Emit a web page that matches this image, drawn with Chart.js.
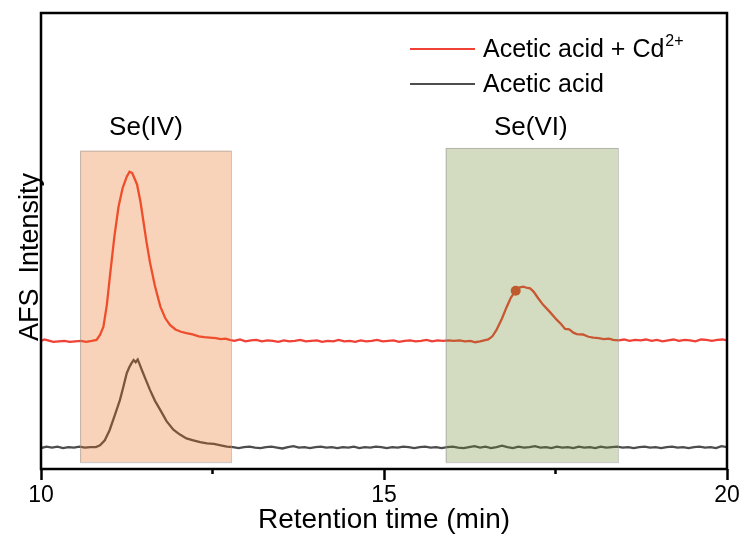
<!DOCTYPE html>
<html>
<head>
<meta charset="utf-8">
<script src="https://cdn.jsdelivr.net/npm/chart.js@4.4.1/dist/chart.umd.min.js"></script>
<style>
  html, body { margin: 0; padding: 0; background: #fff; }
</style>
</head>
<body>
<canvas id="chart" width="743" height="537"></canvas>
<script>
// retention time (min) and AFS signal
const timeCd = [10.00, 10.05, 10.10, 10.18, 10.26, 10.34, 10.42, 10.50, 10.58, 10.66, 10.74, 10.81, 10.86, 10.91, 10.96,
  11.01, 11.07, 11.13, 11.19, 11.25, 11.29, 11.33, 11.40, 11.45, 11.49, 11.54, 11.59, 11.66, 11.74, 11.81, 11.88, 11.96,
  12.04, 12.12, 12.21, 12.30, 12.38, 12.46, 12.55, 12.62, 12.69, 12.75, 12.82, 12.90, 12.98, 13.06, 13.14, 13.22, 13.30,
  13.38, 13.46, 13.54, 13.62, 13.70, 13.78, 13.86, 13.94, 14.02, 14.10, 14.18, 14.26, 14.34, 14.42, 14.50, 14.58, 14.66,
  14.74, 14.82, 14.90, 14.98, 15.06, 15.14, 15.22, 15.30, 15.38, 15.46, 15.54, 15.62, 15.70, 15.78, 15.86, 15.94, 16.02,
  16.10, 16.18, 16.26, 16.33, 16.40, 16.46, 16.52, 16.58, 16.64, 16.72, 16.79, 16.85, 16.92, 16.97, 17.03, 17.09, 17.13,
  17.18, 17.25, 17.32, 17.42, 17.52, 17.58, 17.64, 17.70, 17.76, 17.81, 17.90, 17.98, 18.05, 18.13, 18.20, 18.28, 18.34,
  18.42, 18.50, 18.58, 18.66, 18.74, 18.82, 18.90, 18.98, 19.06, 19.14, 19.22, 19.30, 19.38, 19.46, 19.54, 19.62, 19.70,
  19.78, 19.86, 19.94, 20.00];
const afsCd = [28.1, 28.4, 28.2, 27.9, 28.0, 28.1, 27.9, 28.0, 28.1, 27.9, 28.1, 28.3, 29.4, 31.2, 36.0,
  43.0, 51.0, 57.5, 61.6, 64.1, 65.2, 64.9, 62.4, 58.6, 54.6, 49.6, 45.2, 40.2, 35.6, 33.1, 31.6, 30.6,
  30.1, 29.8, 29.5, 29.1, 28.9, 28.8, 28.7, 28.5, 28.6, 28.3, 28.1, 28.4, 28.0, 28.2, 28.3, 28.0, 28.2,
  28.1, 27.9, 28.2, 28.0, 28.1, 28.3, 28.0, 28.1, 28.2, 27.9, 28.1, 28.0, 28.3, 28.0, 28.1, 27.9, 28.2,
  28.0, 28.1, 28.3, 28.0, 28.1, 28.2, 27.9, 28.1, 28.2, 28.0, 28.1, 28.3, 28.0, 28.2, 28.1, 28.2, 28.1,
  28.2, 28.0, 28.1, 27.8, 28.0, 28.2, 28.4, 29.1, 30.5, 33.0, 35.6, 37.6, 39.1, 39.8, 40.0, 39.7, 39.6,
  38.9, 37.4, 36.0, 34.4, 32.7, 31.8, 30.7, 30.6, 29.9, 29.6, 29.5, 29.0, 28.8, 28.7, 28.5, 28.6, 28.3,
  28.2, 28.4, 28.1, 28.3, 28.2, 28.4, 28.1, 28.3, 28.0, 28.2, 28.4, 28.1, 28.3, 28.2, 28.0, 28.4, 28.3,
  28.1, 28.3, 28.4, 28.2];

const timeBlank = [10.00, 10.08, 10.16, 10.24, 10.32, 10.40, 10.48, 10.56, 10.64, 10.72, 10.80, 10.86, 10.93, 11.00,
  11.08, 11.15, 11.20, 11.25, 11.29, 11.32, 11.35, 11.38, 11.41, 11.44, 11.47, 11.53, 11.59, 11.66, 11.74, 11.83, 11.93,
  12.02, 12.12, 12.22, 12.32, 12.42, 12.52, 12.62, 12.71, 12.80, 12.88, 12.96, 13.04, 13.12, 13.20, 13.28, 13.36, 13.44,
  13.52, 13.60, 13.68, 13.76, 13.84, 13.92, 14.00, 14.08, 14.16, 14.24, 14.32, 14.40, 14.48, 14.56, 14.64, 14.72, 14.80,
  14.88, 14.96, 15.04, 15.12, 15.20, 15.28, 15.36, 15.44, 15.52, 15.60, 15.68, 15.76, 15.84, 15.92, 16.00, 16.08, 16.16,
  16.24, 16.32, 16.40, 16.48, 16.56, 16.64, 16.72, 16.80, 16.88, 16.96, 17.04, 17.12, 17.20, 17.28, 17.36, 17.44, 17.52,
  17.60, 17.68, 17.76, 17.84, 17.92, 18.00, 18.08, 18.16, 18.24, 18.32, 18.40, 18.48, 18.56, 18.64, 18.72, 18.80, 18.88,
  18.96, 19.04, 19.12, 19.20, 19.28, 19.36, 19.44, 19.52, 19.60, 19.68, 19.76, 19.84, 19.92, 20.00];
const afsBlank = [4.6, 4.9, 4.7, 4.9, 4.6, 4.8, 4.7, 4.9, 4.7, 4.8, 4.8, 5.2, 6.3, 8.5,
  12.0, 15.1, 18.0, 21.0, 22.4, 23.2, 23.9, 23.4, 24.0, 22.9, 21.7, 19.5, 17.3, 15.0, 12.9, 10.5, 8.6,
  7.6, 6.7, 6.3, 5.9, 5.6, 5.5, 5.2, 4.9, 4.8, 4.6, 4.8, 4.9, 4.7, 4.6, 4.8, 4.9, 4.7,
  4.5, 4.8, 5.0, 4.7, 4.8, 4.6, 4.8, 4.9, 4.7, 4.8, 4.6, 4.8, 4.7, 4.9, 4.6, 4.8, 4.7,
  4.9, 4.8, 4.6, 4.8, 4.7, 4.9, 4.8, 4.6, 4.8, 4.9, 4.7, 4.8, 4.6, 4.8, 4.9, 4.7, 4.6,
  4.8, 5.0, 4.7, 4.9, 4.6, 4.8, 5.1, 4.8, 4.6, 4.9, 4.7, 4.8, 5.0, 4.7, 4.8, 4.6, 4.9,
  4.7, 4.8, 4.6, 4.9, 4.7, 4.8, 4.6, 4.9, 4.7, 4.8, 4.9, 4.7, 4.8, 4.6, 4.8, 4.9, 4.7,
  4.8, 4.6, 4.8, 4.9, 4.7, 4.8, 4.6, 4.8, 4.9, 4.7, 4.8, 4.6, 5.0, 4.8];

// the single dot on the Se(VI) peak
const markTime = [16.92];
const markAfs = [39.1];

// species windows
const regionNames = ['Se(IV)', 'Se(VI)'];
const regionStart = [10.57, 15.90];
const regionEnd = [12.77, 18.41];

const legendMain = ['Acetic acid + Cd', 'Acetic acid'];
const legendSup = ['2+', ''];

const xTicks = [10, 12.5, 15, 17.5, 20];

const FONT = 'Arial, "Liberation Sans", sans-serif';

function pts(xs, ys) {
  return xs.map((x, i) => ({ x: x, y: ys[i] }));
}

// shaded windows are painted over the traces, as in the original figure
const regionPlugin = {
  id: 'regions',
  afterDatasetsDraw(chart) {
    const { ctx, scales: { x, y } } = chart;
    const fills = ['rgba(235,108,22,0.3)', 'rgba(108,138,45,0.3)'];
    const tops = [69.8, 70.4];
    const labelX = [11.53, 17.14];
    ctx.save();
    for (let i = 0; i < regionNames.length; i++) {
      const x0 = x.getPixelForValue(regionStart[i]);
      const x1 = x.getPixelForValue(regionEnd[i]);
      const y0 = y.getPixelForValue(tops[i]);
      const y1 = y.getPixelForValue(1.5);
      ctx.fillStyle = fills[i];
      ctx.fillRect(x0, y0, x1 - x0, y1 - y0);
      ctx.strokeStyle = 'rgba(150,150,150,0.55)';
      ctx.lineWidth = 1;
      ctx.strokeRect(x0 + 0.5, y0 + 0.5, x1 - x0, y1 - y0);
      ctx.fillStyle = '#000';
      ctx.font = '26px ' + FONT;
      ctx.textAlign = 'center';
      ctx.textBaseline = 'middle';
      ctx.fillText(regionNames[i], x.getPixelForValue(labelX[i]), y.getPixelForValue(74.8));
    }
    // frame round the plot
    const a = chart.chartArea;
    ctx.strokeStyle = '#000';
    ctx.lineWidth = 2.5;
    ctx.strokeRect(a.left, a.top, a.right - a.left, a.bottom - a.top);
    // short minor ticks
    xTicks.filter(v => v % 5 !== 0).forEach(v => {
      const px = x.getPixelForValue(v);
      ctx.beginPath();
      ctx.moveTo(px, a.bottom);
      ctx.lineTo(px, a.bottom + 5);
      ctx.stroke();
    });
    ctx.restore();
  }
};

const legendPlugin = {
  id: 'afsLegend',
  afterDraw(chart) {
    const ctx = chart.ctx;
    const rows = [49, 84];
    ctx.save();
    chart.data.datasets.slice(0, 2).forEach((ds, i) => {
      ctx.strokeStyle = ds.borderColor;
      ctx.lineWidth = 2;
      ctx.beginPath();
      ctx.moveTo(410, rows[i]);
      ctx.lineTo(475, rows[i]);
      ctx.stroke();
      ctx.fillStyle = '#000';
      ctx.textAlign = 'left';
      ctx.textBaseline = 'alphabetic';
      ctx.font = '25px ' + FONT;
      ctx.fillText(legendMain[i], 483, rows[i] + 8);
      if (legendSup[i]) {
        const w = ctx.measureText(legendMain[i]).width;
        ctx.font = '16px ' + FONT;
        ctx.fillText(legendSup[i], 483 + w + 1, rows[i] - 3);
      }
    });
    // y axis title
    ctx.translate(38, 257);
    ctx.rotate(-Math.PI / 2);
    ctx.font = '27px ' + FONT;
    ctx.textAlign = 'center';
    ctx.fillText('AFS  Intensity', 0, 0);
    ctx.restore();
  }
};

new Chart(document.getElementById('chart'), {
  type: 'line',
  data: {
    datasets: [
      {
        label: legendMain[0] + legendSup[0],
        data: pts(timeCd, afsCd),
        borderColor: '#ef4136',
        borderWidth: 2.3,
        pointRadius: 0,
        tension: 0,
        order: 2
      },
      {
        label: legendMain[1],
        data: pts(timeBlank, afsBlank),
        borderColor: '#4d4d4d',
        borderWidth: 2.3,
        pointRadius: 0,
        tension: 0,
        order: 3
      },
      {
        label: 'peak',
        data: pts(markTime, markAfs),
        showLine: false,
        pointRadius: 5,
        pointBackgroundColor: '#e0462e',
        pointBorderWidth: 0,
        order: 1
      }
    ]
  },
  options: {
    responsive: false,
    animation: false,
    events: [],
    layout: { padding: { top: 13, right: 16, left: 0, bottom: 0 } },
    plugins: {
      legend: { display: false },
      tooltip: { enabled: false }
    },
    scales: {
      x: {
        type: 'linear',
        min: 10,
        max: 20,
        afterFit: s => { s.height = 68; },
        afterBuildTicks: s => { s.ticks = xTicks.map(v => ({ value: v })); },
        border: { display: false },
        grid: {
          drawOnChartArea: false,
          drawTicks: true,
          tickLength: 11,
          tickWidth: 2.5,
          tickColor: c => (c.tick && c.tick.value % 5 === 0) ? '#000' : 'rgba(0,0,0,0)'
        },
        ticks: {
          autoSkip: false,
          maxRotation: 0,
          padding: 2,
          color: '#000',
          font: { family: FONT, size: 23 },
          callback: v => (v % 5 === 0 ? String(v) : '')
        },
        title: {
          display: true,
          text: 'Retention time (min)',
          color: '#000',
          font: { family: FONT, size: 28 },
          padding: { top: 0, bottom: 0 }
        }
      },
      y: {
        type: 'linear',
        min: 0,
        max: 100,
        afterFit: s => { s.width = 41; },
        border: { display: false },
        grid: { display: false },
        ticks: { display: false }
      }
    }
  },
  plugins: [regionPlugin, legendPlugin]
});
</script>
</body>
</html>
